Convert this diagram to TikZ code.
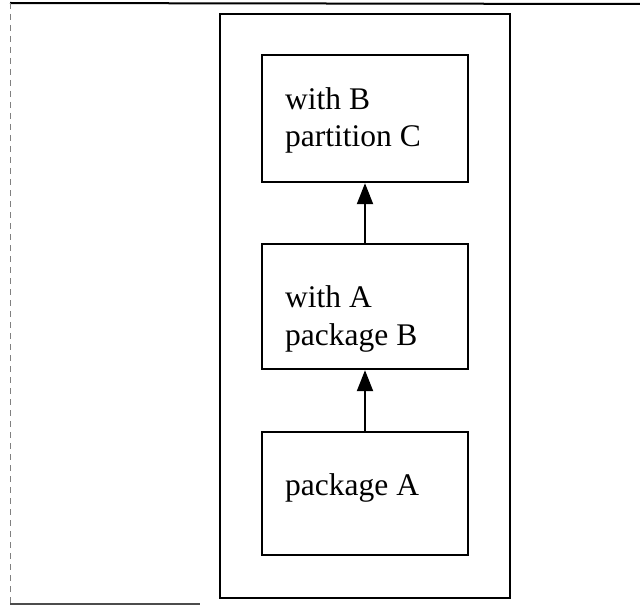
\documentclass[tikz,border=0pt]{standalone}
\usepackage{fontspec}
\setmainfont{Liberation Serif}
\usetikzlibrary{arrows.meta}
\begin{document}
\begin{tikzpicture}[x=1pt,y=-1pt,
  box/.style={draw, line width=2.4pt, minimum width=206pt, inner sep=0pt},
  lbl/.style={anchor=base west, inner sep=0pt, font=\fontsize{31.5}{38}\selectfont},
  dep/.style={line width=2.2pt, -{Triangle[width=16pt,length=21pt]}},
  pageedge/.style={line width=2pt},
  container/.style={draw, line width=2.6pt, minimum width=290pt, minimum height=584pt, inner sep=0pt}]
\useasboundingbox (0,0) rectangle (640,607);
% page edges (scan border)
\coordinate (tl) at (10,3);
\coordinate (tr) at (640,4);
\coordinate (bl) at (10,604);
\coordinate (br) at (200,604);
\draw[pageedge] (tl) -- (tr);
\draw[line width=1pt, gray, dash pattern=on 6pt off 5pt] (tl) -- (bl);
\draw[line width=1.6pt, black!70] (bl) -- (br);
% container
\node[container] (outer) at (365,306) {};
% boxes
\node[box, minimum height=127pt] (b1) at (365,118.5) {};
\node[box, minimum height=125pt] (b2) at (365,306.5) {};
\node[box, minimum height=123pt] (b3) at (365,493.5) {};
% texts
\node[lbl] (t1a) at (285,110) {with B};
\node[lbl] (t1b) at (285,147) {partition C};
\node[lbl] (t2a) at (285,307) {with A};
\node[lbl] (t2b) at (285,345) {package B};
\node[lbl] (t3a) at (285,495) {package A};
% arrows
\draw[dep] (b3.north) -- (b2.south);
\draw[dep] (b2.north) -- (b1.south);
\end{tikzpicture}
\end{document}
